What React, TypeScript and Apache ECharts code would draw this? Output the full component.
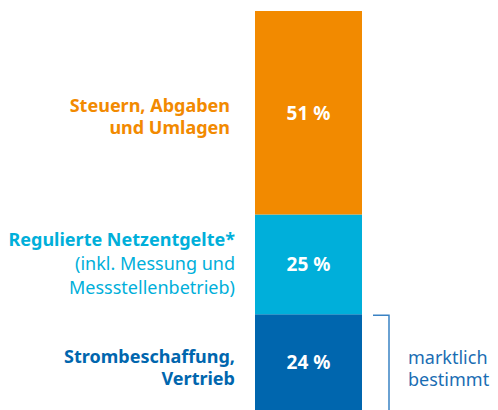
import React, { useEffect, useRef } from "react";
import * as echarts from "echarts";

const categories = ["Strompreis"];
const segmentKeys = ["beschaffung", "netz", "steuern"];
const segmentValues = [24, 25, 51];
const segmentColors = ["#0066AE", "#00AFDA", "#F28A00"];
const segmentLabels = [
  "{b|Strombeschaffung,}\n{b|Vertrieb}",
  "{b|Regulierte Netzentgelte*}\n{n|(inkl. Messung und}\n{n|Messstellenbetrieb)}",
  "{b|Steuern, Abgaben}\n{b|und Umlagen}",
];
const bracketText = "marktlich\nbestimmt";

const FONT = "'Noto Sans', sans-serif";

export default function App() {
  const ref = useRef<HTMLDivElement>(null);
  useEffect(() => {
    document.body.style.margin = "0";
    if (!ref.current) return;
    const chart = echarts.init(ref.current, null, { renderer: "svg" });
    const valueSeries = segmentValues.map((v, i) => ({
      name: segmentKeys[i],
      type: "bar",
      stack: "total",
      xAxisIndex: 0,
      yAxisIndex: 0,
      barWidth: "100%",
      data: [v],
      itemStyle: { color: segmentColors[i] },
      label: {
        show: true,
        position: "inside",
        formatter: "{c} %",
        color: "#ffffff",
        fontFamily: FONT,
        fontWeight: "bold",
        fontSize: 19,
      },
    }));
    const nameSeries = segmentValues.map((v, i) => ({
      name: segmentKeys[i] + "-label",
      type: "bar",
      stack: "labels",
      xAxisIndex: 1,
      yAxisIndex: 1,
      barWidth: "100%",
      data: [v],
      itemStyle: { color: "rgba(0,0,0,0)" },
      silent: true,
      label: {
        show: true,
        position: "insideRight",
        distance: i === 2 ? 7 : 2,
        offset: [0, i === 2 ? 3 : i === 0 ? 5 : -1],
        formatter: segmentLabels[i],
        align: "right",
        rich: {
          b: {
            color: segmentColors[i],
            fontFamily: FONT,
            fontWeight: "bold",
            fontSize: 18,
            lineHeight: i === 1 ? 24 : 22,
            align: "right",
          },
          n: {
            color: segmentColors[i],
            fontFamily: FONT,
            fontWeight: "normal",
            fontSize: 18,
            lineHeight: 24,
            align: "right",
          },
        },
      },
    }));
    chart.setOption({
      animation: false,
      grid: [
        { left: 255, width: 107, top: 11, bottom: 0 },
        { left: 0, width: 237, top: 11, bottom: 0 },
      ],
      xAxis: [
        { type: "category", data: categories, gridIndex: 0, show: false },
        { type: "category", data: categories, gridIndex: 1, show: false },
      ],
      yAxis: [
        { type: "value", min: 0, max: 100, gridIndex: 0, show: false },
        { type: "value", min: 0, max: 100, gridIndex: 1, show: false },
      ],
      series: [...valueSeries, ...nameSeries],
    });
    const yTop = chart.convertToPixel({ yAxisIndex: 0 }, segmentValues[0]) as number;
    const yBottom = chart.convertToPixel({ yAxisIndex: 0 }, 0) as number;
    const xRight = 389;
    chart.setOption({
      graphic: [
        {
          type: "polyline",
          shape: {
            points: [
              [373, yTop + 1],
              [xRight, yTop + 1],
              [xRight, yBottom],
            ],
          },
          style: { stroke: "#3A82C4", lineWidth: 1.5, fill: "none" },
          silent: true,
        },
        {
          type: "text",
          x: 408,
          y: (yTop + yBottom) / 2 + 5.5,
          style: {
            text: bracketText,
            fill: "#1A6DB3",
            font: `normal 18px ${FONT}`,
            lineHeight: 22,
            align: "left",
            verticalAlign: "middle",
          },
          silent: true,
        },
      ],
    });
    return () => chart.dispose();
  }, []);
  return <div ref={ref} style={{ width: 498, height: 410 }} />;
}
